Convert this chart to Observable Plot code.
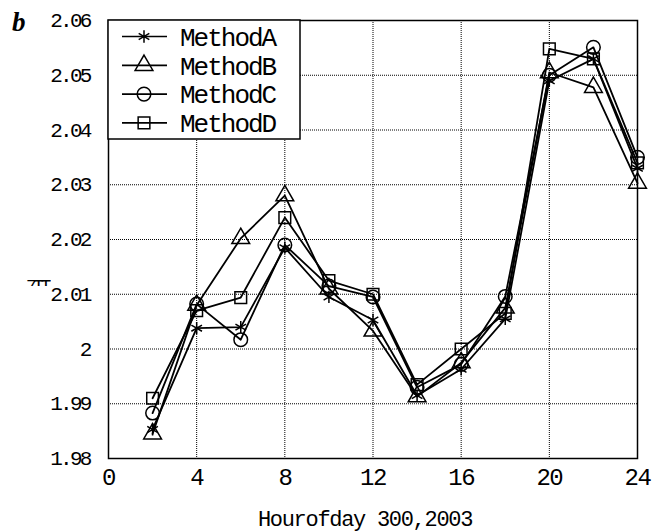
<!DOCTYPE html>
<html><head><meta charset="utf-8">
<script src="https://cdn.jsdelivr.net/npm/d3@7"></script>
<script src="https://cdn.jsdelivr.net/npm/@observablehq/plot@0.6"></script>
<style>body{margin:0;background:#fff} #chart{position:relative;width:660px;height:532px}</style>
</head><body><div id="chart"></div>
<script>
const hours = [2,4,6,8,10,12,14,16,18,20,22,24];
const methodA = [1.9853,2.0038,2.0040,2.0185,2.0095,2.0053,1.9915,1.9963,2.0055,2.0490,2.0530,2.0330];
const methodB = [1.9845,2.0080,2.0202,2.0280,2.0110,2.0033,1.9913,1.9975,2.0075,2.0505,2.0478,2.0303];
const methodC = [1.9883,2.0082,2.0017,2.0190,2.0115,2.0095,1.9930,1.9972,2.0096,2.0500,2.0551,2.0350];
const methodD = [1.9910,2.0070,2.0094,2.0240,2.0125,2.0100,1.9935,2.0000,2.0065,2.0548,2.0530,2.0340];
const methodNames = ["MethodA","MethodB","MethodC","MethodD"];
const symbols = ["asterisk","triangle","circle","square"];
const xTicks = [0,4,8,12,16,20,24];
const yTicks = [1.98,1.99,2,2.01,2.02,2.03,2.04,2.05,2.06];
const xLabel = "Hourofday 300,2003";
const yLabel = "7TT";
const panelLabel = "b";

const series = [methodA, methodB, methodC, methodD];
const markerR = {asterisk:5.8, triangle:6.6, circle:6.8, square:6.6};
const rows = methodNames.flatMap((m, i) => hours.map((h, j) => ({method: m, symbol: symbols[i], hour: h, value: series[i][j]})));

const gridStyle = {stroke: "black", strokeOpacity: 1, strokeWidth: 1, strokeDasharray: "1,1"};
const marks = [
  Plot.gridX(xTicks, gridStyle),
  Plot.gridY(yTicks, gridStyle),
  Plot.axisX(xTicks, {tickSize: 0, tickPadding: 9, fontSize: 24, label: null}),
  Plot.axisY(yTicks, {tickSize: 0, tickPadding: 19, fontSize: 21, tickFormat: d => String(+d.toFixed(2)), label: null}),
];
methodNames.forEach((m, i) => {
  const d = rows.filter(r => r.method === m);
  marks.push(Plot.line(d, {x: "hour", y: "value", stroke: "black", strokeWidth: 1.8}));
  marks.push(Plot.dot(d, {x: "hour", y: "value", symbol: () => symbols[i], r: markerR[symbols[i]], stroke: "black", strokeWidth: 1.5, fill: "none"}));
});
marks.push(Plot.frame({stroke: "black", strokeWidth: 1.5}));
marks.push(Plot.text([xLabel], {frameAnchor: "bottom", dx: -8, dy: 67, lineAnchor: "bottom", fontSize: 22, text: d => d, fill: "black"}));

const chart = Plot.plot({
  width: 660, height: 532,
  marginLeft: 108, marginRight: 23, marginTop: 20, marginBottom: 74,
  style: {fontFamily: "Liberation Mono", color: "black", background: "white"},
  x: {domain: [0, 24], ticks: xTicks},
  y: {domain: [1.98, 2.06], ticks: yTicks},
  symbol: {type: "identity"},
  marks
});
document.getElementById("chart").appendChild(chart);

const svg = d3.select(chart);
// condensed lettering, as in the reference
svg.selectAll('g[aria-label="y-axis tick label"]').attr("letter-spacing", "-2.8px");
svg.selectAll('g[aria-label="x-axis tick label"]').attr("letter-spacing", "-1.5px");
svg.selectAll('g[aria-label="text"]').attr("letter-spacing", "-1.3px");

// legend + extra texts
const g = svg.append("g").attr("text-anchor", "start");
const lx0 = 108, ly0 = 20, lw = 192, lh = 119;
g.append("rect").attr("x", lx0).attr("y", ly0).attr("width", lw).attr("height", lh)
  .attr("fill", "white").attr("stroke", "black").attr("stroke-width", 1.5);
const symMap = {asterisk: d3.symbolAsterisk, triangle: d3.symbolTriangle, circle: d3.symbolCircle, square: d3.symbolSquare};
methodNames.forEach((m, i) => {
  const cy = 36.5 + i * 28.8;
  g.append("line").attr("x1", 122).attr("x2", 167).attr("y1", cy).attr("y2", cy)
    .attr("stroke", "black").attr("stroke-width", 1.7);
  const r = markerR[symbols[i]];
  g.append("path").attr("transform", `translate(144,${cy})`)
    .attr("d", d3.symbol(symMap[symbols[i]], Math.PI * r * r)())
    .attr("fill", "none").attr("stroke", "black").attr("stroke-width", 1.5);
  g.append("text").attr("x", 180).attr("y", cy).attr("dy", "0.36em").attr("text-anchor", "start")
    .attr("font-size", 26).attr("letter-spacing", "-2px").attr("fill", "black").text(m);
});
svg.append("text").attr("x", 12).attr("y", 31).attr("text-anchor", "start").attr("font-family", "Liberation Serif")
  .attr("font-weight", "bold").attr("font-style", "italic").attr("font-size", 27).text(panelLabel);
svg.append("clipPath").attr("id", "ylabclip").append("rect").attr("x", 20).attr("y", 277).attr("width", 31).attr("height", 9);
svg.append("text").attr("x", 26).attr("y", 292).attr("text-anchor", "start").attr("clip-path", "url(#ylabclip)")
  .attr("font-size", 18).attr("letter-spacing", "-3.5px").text(yLabel);
</script></body></html>
